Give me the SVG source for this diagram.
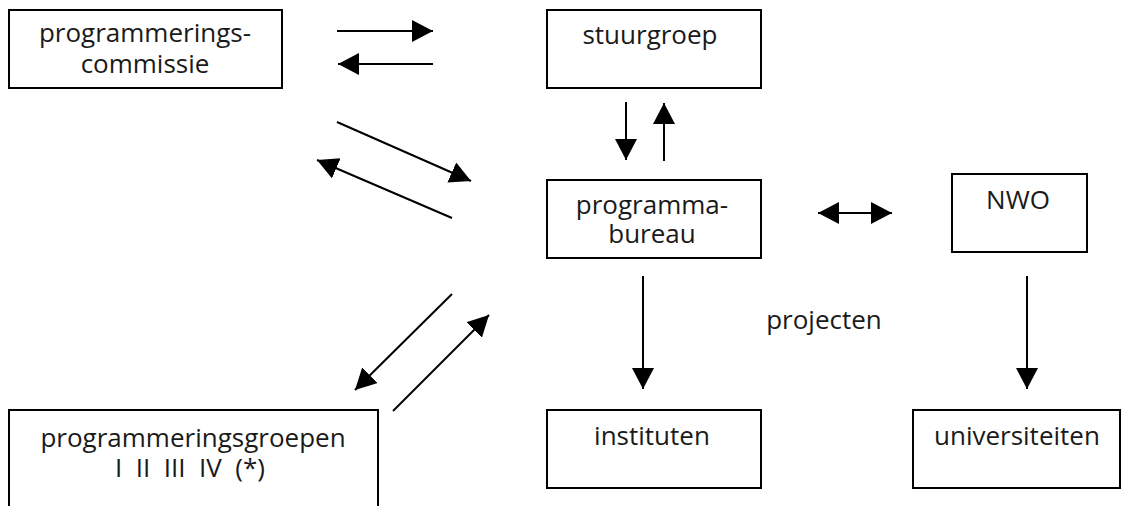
<svg xmlns="http://www.w3.org/2000/svg" width="1122" height="506" viewBox="0 0 1122 506">
<style>
.box{fill:#fff;stroke:#000;stroke-width:2}
.t{font-family:"Open Sans","Liberation Sans",sans-serif;font-size:26px;fill:#1a1a1a;text-anchor:middle}
.c{stroke:#000;stroke-width:2;fill:none;marker-end:url(#ah)}
</style>
<defs>
<marker id="ah" markerUnits="userSpaceOnUse" markerWidth="22" markerHeight="23" refX="21" refY="11" orient="auto-start-reverse" viewBox="0 0 22 23">
<path d="M0,0 L21,11 L0,22 z" fill="#000"/>
</marker>
</defs>
<rect width="1122" height="506" fill="#fff"/>
<g id="node-programmeringscommissie">
<rect class="box" x="9" y="10" width="273" height="78"/>
<text class="t" x="145" y="42">programmerings-</text>
<text class="t" x="145" y="73">commissie</text>
</g>
<g id="node-stuurgroep">
<rect class="box" x="547" y="10" width="214" height="78"/>
<text class="t" x="650" y="44">stuurgroep</text>
</g>
<g id="node-programmabureau">
<rect class="box" x="547" y="180" width="214" height="78"/>
<text class="t" x="652" y="214">programma-</text>
<text class="t" x="652" y="243">bureau</text>
</g>
<g id="node-nwo">
<rect class="box" x="952" y="174" width="135" height="78"/>
<text class="t" x="1018" y="209">NWO</text>
</g>
<g id="node-programmeringsgroepen">
<rect class="box" x="9" y="410" width="369" height="130"/>
<text class="t" x="193" y="447">programmeringsgroepen</text>
<text class="t" x="190" y="477" xml:space="preserve">I  II  III  IV  (*)</text>
</g>
<g id="node-instituten">
<rect class="box" x="547" y="410" width="214" height="78"/>
<text class="t" x="652" y="445">instituten</text>
</g>
<g id="node-universiteiten">
<rect class="box" x="913" y="410" width="207" height="78"/>
<text class="t" x="934" y="445" style="text-anchor:start">universiteiten</text>
</g>
<g id="label-projecten">
<text class="t" x="824" y="329">projecten</text>
</g>
<g id="connectors">
<line class="c" x1="337" y1="31" x2="433" y2="31"/>
<line class="c" x1="433" y1="64" x2="338" y2="64"/>
<line class="c" x1="337" y1="122" x2="471" y2="181"/>
<line class="c" x1="452" y1="218" x2="317" y2="160"/>
<line class="c" x1="452" y1="294" x2="355" y2="390"/>
<line class="c" x1="393" y1="411" x2="489" y2="315"/>
<line class="c" x1="626" y1="102" x2="626" y2="160"/>
<line class="c" x1="664" y1="161" x2="664" y2="103"/>
<line class="c" x1="818" y1="213" x2="892" y2="213" style="marker-start:url(#ah)"/>
<line class="c" x1="643" y1="276" x2="643" y2="389"/>
<line class="c" x1="1027" y1="276" x2="1027" y2="389"/>
</g>
</svg>
